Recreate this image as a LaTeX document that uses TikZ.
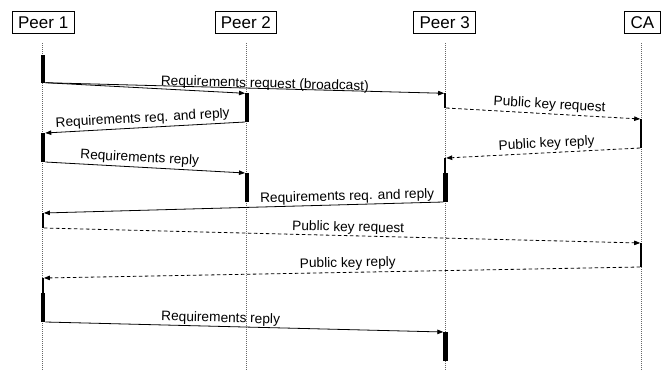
\documentclass[tikz,border=0pt]{standalone}
\usepackage{fontspec}
\setmainfont{Liberation Sans}
\usetikzlibrary{arrows.meta}
\begin{document}
\begin{tikzpicture}[x=1pt,y=-1pt,
  hdr/.style={draw, line width=0.8pt, minimum height=21.6pt, inner xsep=5.8pt, inner ysep=0pt, font=\fontsize{17}{20}\selectfont},
  life/.style={line width=0.7pt, black!60, dash pattern=on 1pt off 1pt},
  msg/.style={line width=0.8pt, -{Triangle[length=6pt,width=4.5pt]}},
  rmsg/.style={msg, dash pattern=on 3.5pt off 2.5pt},
  lbl/.style={font=\fontsize{13.7}{16}\selectfont, sloped, above, inner sep=2pt},
]
\useasboundingbox (0,0) rectangle (662,370);
% headers
\node[hdr] (h1) at (43.2,22.5) {Peer 1};
\node[hdr] (h2) at (245.8,22.5) {Peer 2};
\node[hdr] (h3) at (444.7,22.5) {Peer 3};
\node[hdr] (h4) at (642.5,22.5) {CA};
% lifelines
\coordinate (l1t) at (42.7,43); \coordinate (l1b) at (42.7,370);
\coordinate (l2t) at (246.7,43); \coordinate (l2b) at (246.7,370);
\coordinate (l3t) at (445,43); \coordinate (l3b) at (445,370);
\coordinate (l4t) at (641,43); \coordinate (l4b) at (641,370);
\draw[life] (l1t) -- (l1b);
\draw[life] (l2t) -- (l2b);
\draw[life] (l3t) -- (l3b);
\draw[life] (l4t) -- (l4b);
% activation bars
\fill (41,55) rectangle (45.3,82.7);
\fill (41,133) rectangle (45.3,162);
\fill (41.9,213) rectangle (43.9,228);
\fill (41.9,278) rectangle (43.9,293);
\fill (41,293) rectangle (45.3,322);
\fill (245,93.3) rectangle (249.3,122);
\fill (245,173) rectangle (249.3,202);
\fill (444.2,93.3) rectangle (446.2,108);
\fill (444.2,158) rectangle (446.2,173);
\fill (443.3,173) rectangle (447.6,202);
\fill (443.3,332) rectangle (447.6,361);
\fill (640.2,119) rectangle (642.2,148);
\fill (640.2,243) rectangle (642.2,267);
% message end points
\coordinate (a1) at (45.3,82.7);  \coordinate (b1) at (245,93.3);
\coordinate (b2) at (444.2,93.3);
\coordinate (a3) at (245,122);    \coordinate (b3) at (45.3,133);
\coordinate (a4) at (446.2,108);  \coordinate (b4) at (640.2,119);
\coordinate (a5) at (640.2,148);  \coordinate (b5) at (446.2,158);
\coordinate (a6) at (45.3,162);   \coordinate (b6) at (245,173);
\coordinate (a7) at (443.3,202);  \coordinate (b7) at (43.9,213);
\coordinate (a8) at (43.9,228);   \coordinate (b8) at (640.2,243);
\coordinate (a9) at (640.2,267);  \coordinate (b9) at (43.9,278);
\coordinate (a10) at (45.3,322);  \coordinate (b10) at (443.3,332);
% messages
\draw[msg] (a1) -- (b1);
\draw[msg] (a1) -- node[lbl, pos=0.55, inner sep=0pt, yshift=-2.5pt] {Requirements request (broadcast)} (b2);
\draw[msg] (a3) -- node[lbl, pos=0.51] {Requirements req. and reply} (b3);
\draw[rmsg] (a4) -- node[lbl, pos=0.53] {Public key request} (b4);
\draw[rmsg] (a5) -- node[lbl, pos=0.48] {Public key reply} (b5);
\draw[msg] (a6) -- node[lbl, pos=0.47] {Requirements reply} (b6);
\draw[msg] (a7) -- node[lbl, pos=0.24, inner sep=1pt] {Requirements req. and reply} (b7);
\draw[rmsg] (a8) -- node[lbl, pos=0.51, inner sep=1pt] {Public key request} (b8);
\draw[rmsg] (a9) -- node[lbl, pos=0.49] {Public key reply} (b9);
\draw[msg] (a10) -- node[lbl, pos=0.44, inner sep=1pt] {Requirements reply} (b10);
\end{tikzpicture}
\end{document}
